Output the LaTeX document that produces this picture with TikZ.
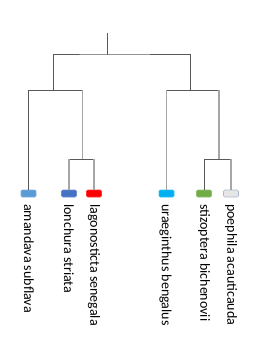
\documentclass[tikz,border=0pt]{standalone}
\usepackage{fontspec}
\setmainfont{Carlito}
\definecolor{dk}{HTML}{595959}
\definecolor{lt}{HTML}{A6A6A6}
\definecolor{c1}{HTML}{5B9BD5}
\definecolor{c2}{HTML}{4472C4}
\definecolor{c3}{HTML}{FF0000}
\definecolor{c4}{HTML}{00B0F0}
\definecolor{c5}{HTML}{70AD47}
\definecolor{c6}{HTML}{E7E6E6}
\definecolor{c6b}{HTML}{ADB9CA}
\begin{document}
\begin{tikzpicture}[x=1pt,y=-1pt,
  leaf/.style={rounded corners=1.2pt,minimum width=15pt,minimum height=7pt,inner sep=0pt,line width=0.6pt},
  lbl/.style={rotate=-90,anchor=west,inner sep=0pt,font=\fontsize{14}{16}\selectfont,text=black},
  dline/.style={draw=dk,line width=1pt},
  lline/.style={draw=lt,line width=1.4pt}]
\useasboundingbox (0,0) rectangle (264,345);
% leaves
\node[leaf,fill=c1,draw=c1!80!white] (l1) at (28.5,193.5) {};
\node[leaf,fill=c2,draw=c2!80!white] (l2) at (69,193.5) {};
\node[leaf,fill=c3,draw=c3!80!white] (l3) at (94,193.5) {};
\node[leaf,fill=c4,draw=c4!80!white] (l4) at (166.5,193.5) {};
\node[leaf,fill=c5,draw=c5!80!white] (l5) at (204,193.5) {};
\node[leaf,fill=c6,draw=c6b] (l6) at (231,193.5) {};
% labels
\node[lbl] (t1) at (29,204) {amandava subflava};
\node[lbl] (t2) at (69,204) {lonchura striata};
\node[lbl] (t3) at (94,204) {lagonosticta senegala};
\node[lbl] (t4) at (165.5,204) {uraeginthus bengalus};
\node[lbl] (t5) at (204,204) {stizoptera bichenovii};
\node[lbl] (t6) at (231,204) {poephila acauticauda};
% junctions
\coordinate (top) at (107,33);
\coordinate (root) at (107,55);
\coordinate (jl) at (53.5,90);
\coordinate (jr) at (190.5,90);
\coordinate (jll) at (82.5,159);
\coordinate (jrr) at (219,159);
% tree
\draw[dline] (top) -- (root);
\draw[dline] (jl) |- (root) -| (jr);
\draw[dline] (l1.north) |- (jl);
\draw[dline] (jl) -| (jll);
\draw[lline] (jl -| jll) -- (jll);
\draw[dline] (jr) -| (l4.north);
\draw[lline] (jr -| l4) -- (l4.north);
\draw[dline] (jr) -| (jrr);
\draw[lline] (jr -| jrr) -- (jrr);
\draw[dline] (jll) -| (l2.north);
\draw[dline] (jll) -| (l3.north);
\draw[lline] (jll -| l2) -- (l2.north);
\draw[lline] (jll -| l3) -- (l3.north);
\draw[dline] (jrr) -| (l5.north);
\draw[dline] (jrr) -| (l6.north);
\draw[lline] (jrr -| l6) -- (l6.north);
\end{tikzpicture}
\end{document}
